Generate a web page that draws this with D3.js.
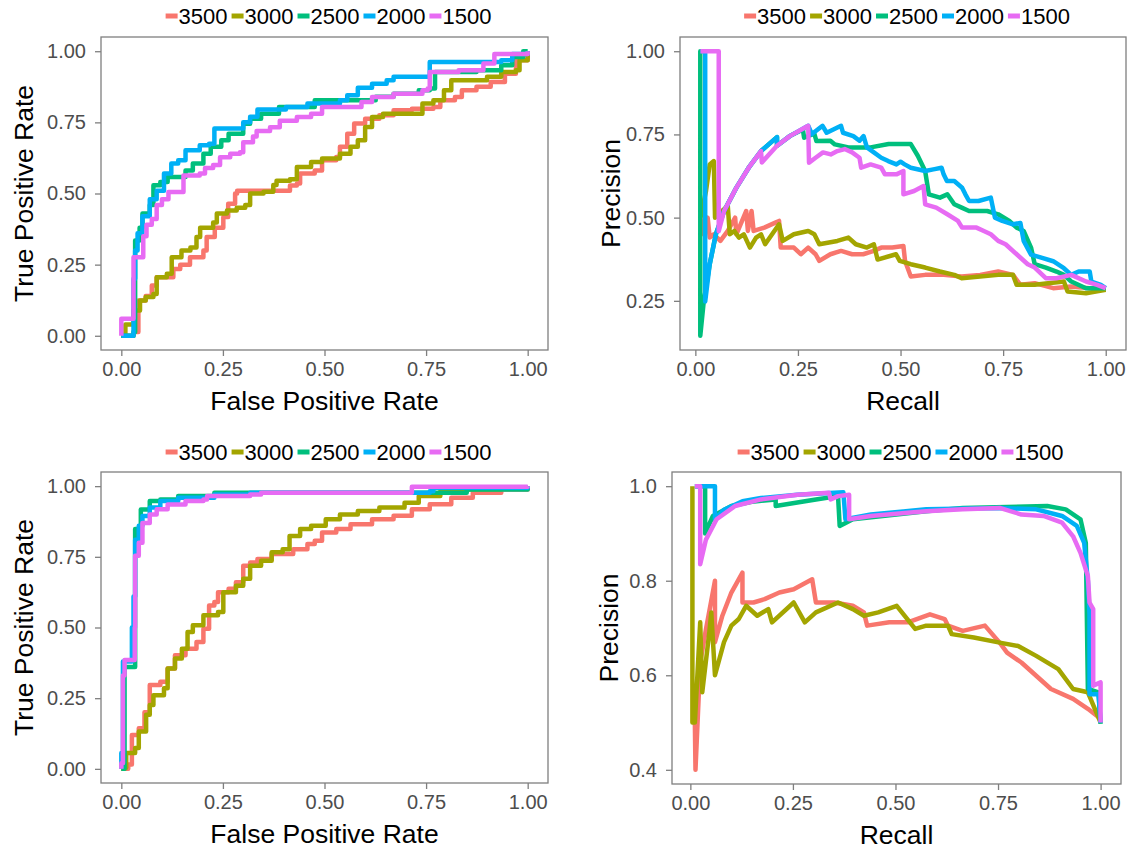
<!DOCTYPE html>
<html>
<head>
<meta charset="utf-8">
<script src="https://cdn.jsdelivr.net/npm/d3@7"></script>
<style>
  body { margin: 0; background: #fff; }
  svg { display: block; }
  text { font-family: "Liberation Sans", Arial, sans-serif; }
</style>
</head>
<body>
<svg id="chart" width="1133" height="854"></svg>
<script>
const groups = ['3500', '3000', '2500', '2000', '1500'];
const palette = ['#F8766D', '#A3A500', '#00BF7D', '#00B0F6', '#E76BF3'];

const rateTicks = [0, 0.25, 0.5, 0.75, 1];
const precTicksTop = [0.25, 0.5, 0.75, 1];
const precTicksBottom = [0.4, 0.6, 0.8, 1.0];

// top-left: ROC
const roc1_3500 = [[0,0],[0.03,0.013],[0.042,0.124],[0.06,0.14],[0.075,0.177],[0.087,0.206],[0.12,0.206],[0.128,0.235],[0.145,0.25],[0.169,0.276],[0.202,0.3],[0.21,0.347],[0.23,0.38],[0.251,0.417],[0.263,0.464],[0.28,0.5],[0.285,0.51],[0.35,0.51],[0.415,0.528],[0.432,0.535],[0.44,0.57],[0.476,0.581],[0.494,0.617],[0.529,0.628],[0.538,0.664],[0.556,0.71],[0.573,0.746],[0.6,0.763],[0.635,0.775],[0.67,0.793],[0.715,0.798],[0.768,0.804],[0.785,0.828],[0.821,0.839],[0.838,0.863],[0.874,0.875],[0.909,0.892],[0.944,0.921],[0.971,0.968],[1,1]];
const roc1_3000 = [[0,0],[0.01,0.04],[0.03,0.089],[0.046,0.124],[0.06,0.136],[0.079,0.147],[0.087,0.206],[0.112,0.218],[0.124,0.276],[0.148,0.3],[0.17,0.31],[0.185,0.347],[0.194,0.38],[0.226,0.398],[0.235,0.43],[0.26,0.44],[0.284,0.45],[0.305,0.46],[0.317,0.5],[0.35,0.506],[0.374,0.53],[0.382,0.545],[0.415,0.55],[0.432,0.593],[0.467,0.611],[0.494,0.623],[0.538,0.64],[0.564,0.664],[0.582,0.687],[0.6,0.734],[0.617,0.769],[0.644,0.78],[0.706,0.78],[0.741,0.816],[0.768,0.828],[0.794,0.863],[0.812,0.898],[0.874,0.898],[0.9,0.91],[0.935,0.927],[0.971,0.933],[0.98,0.968],[1,1]];
const roc1_2500 = [[0,0],[0.03,0.013],[0.034,0.335],[0.045,0.38],[0.052,0.43],[0.07,0.46],[0.079,0.529],[0.096,0.54],[0.114,0.558],[0.158,0.581],[0.176,0.605],[0.202,0.64],[0.22,0.664],[0.246,0.687],[0.264,0.71],[0.3,0.745],[0.317,0.763],[0.344,0.78],[0.388,0.804],[0.476,0.828],[0.626,0.84],[0.67,0.851],[0.732,0.863],[0.759,0.869],[0.772,0.927],[0.874,0.933],[0.935,0.951],[0.962,0.98],[0.989,1],[1,1]];
const roc1_2000 = [[0,0],[0.03,0.2],[0.034,0.3],[0.04,0.36],[0.052,0.42],[0.07,0.48],[0.087,0.51],[0.105,0.57],[0.123,0.605],[0.14,0.617],[0.158,0.652],[0.193,0.67],[0.216,0.675],[0.229,0.728],[0.282,0.728],[0.3,0.75],[0.317,0.77],[0.335,0.795],[0.405,0.804],[0.458,0.816],[0.538,0.828],[0.556,0.845],[0.582,0.872],[0.617,0.886],[0.653,0.898],[0.67,0.91],[0.754,0.91],[0.759,0.962],[0.935,0.968],[0.962,0.99],[1,1]];
const roc1_1500 = [[0,0],[0,0.06],[0.03,0.276],[0.054,0.35],[0.062,0.39],[0.075,0.41],[0.087,0.46],[0.1,0.48],[0.116,0.505],[0.148,0.505],[0.153,0.563],[0.193,0.57],[0.206,0.59],[0.226,0.6],[0.243,0.627],[0.268,0.64],[0.292,0.645],[0.3,0.68],[0.324,0.7],[0.333,0.72],[0.366,0.733],[0.39,0.756],[0.432,0.769],[0.467,0.78],[0.494,0.804],[0.591,0.822],[0.617,0.839],[0.67,0.851],[0.741,0.863],[0.754,0.869],[0.759,0.927],[0.83,0.933],[0.891,0.957],[0.918,0.99],[1,1]];

// top-right: precision / recall
const pr1_3500 = [[0.0125,0.5],[0.021,0.449],[0.03,0.5],[0.035,0.44],[0.045,0.45],[0.061,0.43],[0.079,0.46],[0.097,0.5],[0.1,0.45],[0.124,0.52],[0.128,0.46],[0.137,0.52],[0.142,0.46],[0.168,0.47],[0.195,0.485],[0.204,0.49],[0.208,0.41],[0.24,0.41],[0.257,0.39],[0.275,0.41],[0.293,0.39],[0.302,0.37],[0.329,0.39],[0.355,0.4],[0.382,0.39],[0.409,0.39],[0.435,0.4],[0.453,0.41],[0.48,0.41],[0.507,0.415],[0.511,0.37],[0.525,0.323],[0.56,0.328],[0.605,0.328],[0.649,0.323],[0.694,0.328],[0.738,0.338],[0.774,0.328],[0.792,0.298],[0.827,0.303],[0.872,0.288],[0.916,0.293],[0.96,0.288],[1,0.288]];
const pr1_3000 = [[0.0125,0.5],[0.026,0.58],[0.035,0.66],[0.045,0.67],[0.048,0.5],[0.065,0.52],[0.079,0.535],[0.084,0.45],[0.095,0.46],[0.106,0.44],[0.118,0.45],[0.133,0.41],[0.148,0.44],[0.16,0.45],[0.17,0.42],[0.204,0.48],[0.213,0.43],[0.24,0.45],[0.275,0.46],[0.29,0.45],[0.302,0.42],[0.346,0.43],[0.373,0.44],[0.391,0.42],[0.418,0.41],[0.435,0.42],[0.444,0.374],[0.489,0.39],[0.498,0.37],[0.525,0.36],[0.56,0.35],[0.596,0.338],[0.631,0.328],[0.649,0.318],[0.694,0.323],[0.738,0.328],[0.774,0.328],[0.783,0.298],[0.827,0.298],[0.898,0.308],[0.907,0.278],[0.952,0.273],[1,0.283]];
const pr1_2500 = [[0.012,0.5],[0.012,1],[0.012,0.145],[0.02,0.243],[0.035,0.36],[0.05,0.45],[0.07,0.52],[0.1,0.59],[0.13,0.65],[0.16,0.7],[0.199,0.742],[0.199,0.716],[0.23,0.745],[0.262,0.765],[0.265,0.74],[0.29,0.752],[0.295,0.73],[0.329,0.731],[0.34,0.72],[0.373,0.711],[0.427,0.711],[0.471,0.721],[0.525,0.721],[0.542,0.686],[0.56,0.64],[0.569,0.57],[0.596,0.56],[0.614,0.57],[0.631,0.54],[0.649,0.53],[0.667,0.52],[0.711,0.52],[0.738,0.51],[0.765,0.49],[0.783,0.47],[0.8,0.46],[0.818,0.41],[0.827,0.36],[0.854,0.35],[0.88,0.338],[0.898,0.328],[0.916,0.308],[0.952,0.288],[1,0.288]];
const pr1_2000 = [[0.012,1],[0.024,1],[0.024,0.248],[0.035,0.36],[0.05,0.45],[0.07,0.52],[0.1,0.59],[0.13,0.65],[0.16,0.7],[0.199,0.742],[0.199,0.716],[0.23,0.745],[0.275,0.776],[0.284,0.751],[0.31,0.776],[0.32,0.755],[0.355,0.776],[0.36,0.755],[0.385,0.745],[0.4,0.731],[0.41,0.745],[0.418,0.711],[0.435,0.696],[0.453,0.68],[0.47,0.67],[0.49,0.66],[0.5,0.668],[0.51,0.66],[0.525,0.65],[0.56,0.64],[0.58,0.645],[0.6,0.65],[0.605,0.63],[0.613,0.61],[0.631,0.61],[0.65,0.59],[0.658,0.57],[0.667,0.55],[0.69,0.55],[0.72,0.56],[0.73,0.5],[0.748,0.49],[0.774,0.48],[0.792,0.484],[0.8,0.43],[0.818,0.389],[0.845,0.379],[0.872,0.369],[0.898,0.348],[0.916,0.328],[0.934,0.338],[0.961,0.338],[0.965,0.308],[0.988,0.298],[1,0.288]];
const pr1_1500 = [[0.0125,1],[0.057,1],[0.057,0.459],[0.07,0.52],[0.1,0.59],[0.13,0.65],[0.16,0.7],[0.162,0.666],[0.199,0.716],[0.23,0.745],[0.275,0.776],[0.277,0.665],[0.293,0.68],[0.311,0.696],[0.33,0.69],[0.346,0.7],[0.364,0.706],[0.382,0.696],[0.4,0.68],[0.404,0.65],[0.427,0.66],[0.453,0.65],[0.462,0.63],[0.49,0.63],[0.507,0.64],[0.507,0.57],[0.533,0.58],[0.556,0.595],[0.56,0.54],[0.587,0.53],[0.614,0.51],[0.64,0.49],[0.65,0.47],[0.685,0.47],[0.703,0.46],[0.72,0.45],[0.738,0.43],[0.756,0.42],[0.783,0.39],[0.81,0.36],[0.827,0.35],[0.854,0.318],[0.88,0.318],[0.916,0.328],[0.952,0.308],[0.979,0.298],[1,0.288]];

// bottom-left: ROC
const roc2_3500 = [[0,0],[0.017,0.015],[0.026,0.12],[0.043,0.144],[0.057,0.2],[0.07,0.297],[0.096,0.308],[0.114,0.355],[0.132,0.402],[0.158,0.425],[0.185,0.449],[0.202,0.496],[0.216,0.578],[0.229,0.59],[0.238,0.625],[0.264,0.637],[0.282,0.66],[0.3,0.718],[0.317,0.73],[0.335,0.742],[0.37,0.76],[0.405,0.76],[0.423,0.777],[0.458,0.795],[0.476,0.807],[0.494,0.836],[0.529,0.848],[0.564,0.865],[0.617,0.883],[0.67,0.895],[0.715,0.918],[0.759,0.936],[0.812,0.959],[0.865,0.977],[0.935,0.988],[1,1]];
const roc2_3000 = [[0,0],[0.008,0.004],[0.012,0.056],[0.034,0.074],[0.043,0.132],[0.061,0.191],[0.07,0.226],[0.079,0.26],[0.105,0.285],[0.114,0.355],[0.132,0.39],[0.149,0.425],[0.163,0.484],[0.176,0.508],[0.202,0.543],[0.238,0.555],[0.251,0.625],[0.282,0.648],[0.3,0.672],[0.317,0.718],[0.344,0.736],[0.37,0.766],[0.397,0.777],[0.414,0.824],[0.44,0.848],[0.467,0.86],[0.503,0.883],[0.538,0.9],[0.582,0.912],[0.635,0.924],[0.697,0.941],[0.732,0.965],[0.785,0.982],[0.847,0.988],[0.935,0.994],[1,1]];
const roc2_2500 = [[0,0],[0.008,0.015],[0.008,0.36],[0.034,0.36],[0.034,0.848],[0.048,0.917],[0.07,0.947],[0.096,0.953],[0.14,0.965],[0.229,0.977],[0.75,0.977],[0.85,0.988],[1,1]];
const roc2_2000 = [[0,0],[0,0.056],[0.004,0.38],[0.026,0.5],[0.03,0.61],[0.034,0.81],[0.043,0.86],[0.052,0.894],[0.07,0.924],[0.096,0.947],[0.14,0.959],[0.229,0.97],[0.317,0.977],[0.759,0.982],[0.768,0.994],[1,1]];
const roc2_1500 = [[0,0],[0,0.02],[0.004,0.33],[0.008,0.385],[0.033,0.5],[0.034,0.754],[0.043,0.8],[0.052,0.87],[0.07,0.9],[0.087,0.918],[0.114,0.935],[0.158,0.947],[0.202,0.953],[0.211,0.965],[0.317,0.97],[0.344,0.977],[0.715,0.979],[0.715,0.998],[1,1]];

// bottom-right: precision / recall
const pr2_3500 = [[0.011,0.5],[0.0125,0.4],[0.024,0.627],[0.038,0.697],[0.06,0.8],[0.06,0.67],[0.078,0.726],[0.1,0.775],[0.127,0.817],[0.127,0.754],[0.154,0.754],[0.181,0.761],[0.217,0.775],[0.252,0.782],[0.297,0.803],[0.306,0.754],[0.351,0.754],[0.396,0.747],[0.423,0.733],[0.431,0.705],[0.485,0.712],[0.53,0.712],[0.584,0.729],[0.62,0.719],[0.628,0.705],[0.664,0.694],[0.718,0.705],[0.754,0.669],[0.772,0.648],[0.807,0.627],[0.843,0.599],[0.879,0.571],[0.933,0.55],[0.969,0.529],[1,0.508]];
const pr2_3000 = [[0.005,1],[0.005,0.5],[0.011,0.5],[0.024,0.712],[0.029,0.564],[0.047,0.697],[0.051,0.733],[0.06,0.6],[0.082,0.67],[0.1,0.705],[0.118,0.719],[0.136,0.747],[0.163,0.726],[0.19,0.74],[0.199,0.712],[0.252,0.754],[0.279,0.712],[0.306,0.733],[0.36,0.754],[0.396,0.74],[0.423,0.726],[0.458,0.733],[0.503,0.747],[0.548,0.698],[0.575,0.705],[0.628,0.705],[0.637,0.687],[0.691,0.68],[0.754,0.669],[0.799,0.662],[0.843,0.641],[0.897,0.613],[0.933,0.571],[0.969,0.564],[1,0.5]];
const pr2_2500 = [[0.011,1],[0.036,1],[0.036,0.9],[0.055,0.937],[0.1,0.958],[0.15,0.967],[0.208,0.972],[0.208,0.958],[0.306,0.972],[0.36,0.979],[0.364,0.916],[0.396,0.93],[0.575,0.947],[0.664,0.954],[0.87,0.958],[0.915,0.951],[0.951,0.93],[0.964,0.88],[0.969,0.571],[0.995,0.564],[1,0.497]];
const pr2_2000 = [[0.011,1],[0.06,1],[0.06,0.93],[0.082,0.95],[0.127,0.968],[0.172,0.975],[0.261,0.982],[0.373,0.987],[0.378,0.93],[0.44,0.94],[0.575,0.951],[0.754,0.954],[0.843,0.951],[0.906,0.937],[0.942,0.916],[0.96,0.88],[0.969,0.8],[0.973,0.73],[0.973,0.56],[0.995,0.56],[1,0.5]];
const pr2_1500 = [[0.011,1],[0.024,1],[0.024,0.835],[0.038,0.887],[0.064,0.93],[0.109,0.958],[0.172,0.972],[0.261,0.982],[0.338,0.986],[0.342,0.972],[0.36,0.979],[0.387,0.982],[0.387,0.93],[0.44,0.937],[0.53,0.944],[0.575,0.947],[0.664,0.951],[0.754,0.954],[0.807,0.94],[0.861,0.937],[0.906,0.923],[0.933,0.894],[0.951,0.859],[0.969,0.81],[0.973,0.754],[0.982,0.74],[0.982,0.578],[1,0.585],[1,0.5]];

const panels = [
  { box: [101, 37, 548, 350], series: [roc1_3500, roc1_3000, roc1_2500, roc1_2000, roc1_1500],
    yTicks: rateTicks, yFmt: '.2f', xTitle: 'False Positive Rate', yTitle: 'True Positive Rate',
    yTitleX: 33, legendY: 16, step: true },
  { box: [680, 37, 1126, 350], series: [pr1_3500, pr1_3000, pr1_2500, pr1_2000, pr1_1500],
    yTicks: precTicksTop, yFmt: '.2f', xTitle: 'Recall', yTitle: 'Precision',
    yTitleX: 620, legendY: 16, step: false },
  { box: [101, 472, 548, 783], series: [roc2_3500, roc2_3000, roc2_2500, roc2_2000, roc2_1500],
    yTicks: rateTicks, yFmt: '.2f', xTitle: 'False Positive Rate', yTitle: 'True Positive Rate',
    yTitleX: 33, legendY: 452, step: true },
  { box: [672, 472, 1121, 784], series: [pr2_3500, pr2_3000, pr2_2500, pr2_2000, pr2_1500],
    yTicks: precTicksBottom, yFmt: '.1f', xTitle: 'Recall', yTitle: 'Precision',
    yTitleX: 618, legendY: 452, step: false }
];

const svg = d3.select('#chart');
const borderColor = '#7f7f7f';
const tickTextColor = '#4d4d4d';

// ggplot-like 5% expansion around the data range
function expand(values) {
  const [lo, hi] = d3.extent(values);
  const pad = (hi - lo) * 0.05;
  return [lo - pad, hi + pad];
}

panels.forEach((p) => {
  const [left, top, right, bottom] = p.box;
  const all = p.series.flat();
  const x = d3.scaleLinear().domain(expand(all.map((d) => d[0]))).range([left, right]);
  const y = d3.scaleLinear().domain(expand(all.map((d) => d[1]))).range([bottom, top]);

  const g = svg.append('g');

  // axes
  const xAxis = g.append('g')
    .attr('transform', `translate(0,${bottom})`)
    .call(d3.axisBottom(x).tickValues(rateTicks).tickFormat(d3.format('.2f')).tickSize(6).tickPadding(6));
  const yAxis = g.append('g')
    .attr('transform', `translate(${left},0)`)
    .call(d3.axisLeft(y).tickValues(p.yTicks).tickFormat(d3.format(p.yFmt)).tickSize(6).tickPadding(9));

  [xAxis, yAxis].forEach((a) => {
    a.select('.domain').remove();
    a.selectAll('.tick line').attr('stroke', borderColor).attr('stroke-width', 1.3);
    a.selectAll('.tick text')
      .attr('fill', tickTextColor)
      .attr('font-size', 20)
      .attr('font-family', '"Liberation Sans", Arial, sans-serif');
  });

  // curves
  const line = d3.line()
    .x((d) => x(d[0]))
    .y((d) => y(d[1]))
    .curve(p.step ? d3.curveStepAfter : d3.curveLinear);

  g.append('g')
    .selectAll('path')
    .data(p.series)
    .join('path')
    .attr('d', line)
    .attr('fill', 'none')
    .attr('stroke', (d, i) => palette[i])
    .attr('stroke-width', 4.5)
    .attr('stroke-linejoin', 'round');

  // panel border
  g.append('rect')
    .attr('x', left)
    .attr('y', top)
    .attr('width', right - left)
    .attr('height', bottom - top)
    .attr('fill', 'none')
    .attr('stroke', borderColor)
    .attr('stroke-width', 1.3);

  // axis titles
  g.append('text')
    .attr('x', (left + right) / 2)
    .attr('y', bottom + 60)
    .attr('text-anchor', 'middle')
    .attr('font-size', 26.5)
    .attr('fill', '#000')
    .text(p.xTitle);

  g.append('text')
    .attr('transform', `translate(${p.yTitleX},${(top + bottom) / 2}) rotate(-90)`)
    .attr('text-anchor', 'middle')
    .attr('font-size', 26.5)
    .attr('fill', '#000')
    .text(p.yTitle);

  // legend above the panel
  const legend = g.append('g');
  let offset = 0;
  groups.forEach((name, i) => {
    const item = legend.append('g').attr('transform', `translate(${offset},0)`);
    item.append('line')
      .attr('x1', 0).attr('x2', 12)
      .attr('y1', 0).attr('y2', 0)
      .attr('stroke', palette[i])
      .attr('stroke-width', 5);
    const label = item.append('text')
      .attr('x', 13)
      .attr('y', 8)
      .attr('font-size', 22)
      .attr('fill', '#000')
      .text(name);
    offset += 13 + label.node().getComputedTextLength() + 4;
  });
  const legendWidth = offset - 4;
  legend.attr('transform', `translate(${(left + right) / 2 - legendWidth / 2 + 4},${p.legendY})`);
});
</script>
</body>
</html>
